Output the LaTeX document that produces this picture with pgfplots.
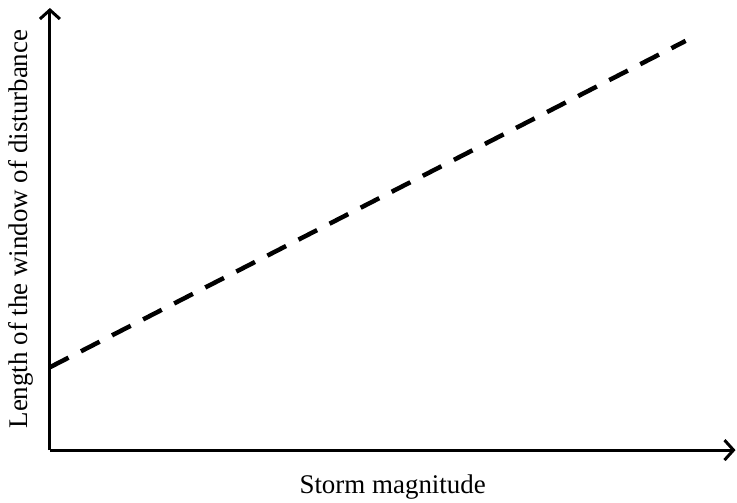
\documentclass[border=0pt]{standalone}
\usepackage{fontspec}
\setmainfont{Liberation Serif}
\usepackage{pgfplots}
\pgfplotsset{compat=1.18}
\usetikzlibrary{arrows.meta}
\begin{document}
\begin{tikzpicture}
\begin{axis}[
  scale only axis,
  width=687pt, height=443pt,
  xmin=0, xmax=687, ymin=0, ymax=443,
  axis lines=left,
  axis line style={line width=3pt, -{Straight Barb[length=9pt,width=20pt,line width=3pt]}},
  xtick=\empty, ytick=\empty,
  clip=false,
  xlabel={Storm magnitude},
  ylabel={Length of the window of disturbance},
  label style={font=\fontsize{27}{32}\selectfont},
  x label style={at={(axis description cs:0.5,0)}, anchor=center, yshift=-37pt},
  y label style={at={(axis description cs:0,0.5)}, anchor=center, yshift=29pt},
]
\addplot[black, line width=4.5pt, dash pattern=on 21pt off 14pt] coordinates {(0,83) (637,410)};
\end{axis}
\path (-50pt,-53pt) rectangle (687pt,451pt);
\end{tikzpicture}
\end{document}
